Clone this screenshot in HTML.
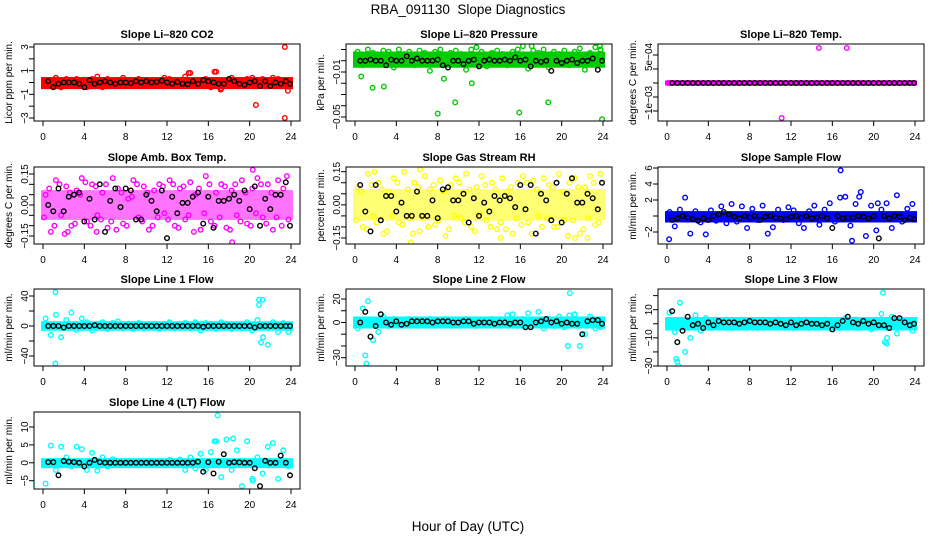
<!DOCTYPE html>
<html><head><meta charset="utf-8">
<style>
html,body{margin:0;padding:0;background:#fff;}
svg{display:block;font-family:"Liberation Sans",sans-serif;}
</style></head>
<body>
<svg id="chart" width="936" height="540" viewBox="0 0 936 540">
<text x="468" y="14" text-anchor="middle" font-size="13.5" style="white-space:pre">RBA_091130  Slope Diagnostics</text>
<text x="468" y="531" text-anchor="middle" font-size="13.5">Hour of Day (UTC)</text>
<g id="panels"></g>
</svg>
<script>
const blackHours=[0.5,1,1.5,2,2.5,3,3.5,4,4.5,5,5.5,6,6.5,7,7.5,8,8.5,9,9.5,10,10.5,11,11.5,12,12.5,13,13.5,14,14.5,15,15.5,16,16.5,17,17.5,18,18.5,19,19.5,20,20.5,21,21.5,22,22.5,23,23.5,23.9];
const colHours=[0.25,0.75,1.25,1.75,2.25,2.75,3.25,3.75,4.25,4.75,5.25,5.75,6.25,6.75,7.25,7.75,8.25,8.75,9.25,9.75,10.25,10.75,11.25,11.75,12.25,12.75,13.25,13.75,14.25,14.75,15.25,15.75,16.25,16.75,17.25,17.75,18.25,18.75,19.25,19.75,20.25,20.75,21.25,21.75,22.25,22.75,23.25,23.75];
const colHoursB=[0.1,0.6,1.1,1.6,2.1,2.6,3.1,3.6,4.1,4.6,5.1,5.6,6.1,6.6,7.1,7.6,8.1,8.6,9.1,9.6,10.1,10.6,11.1,11.6,12.1,12.6,13.1,13.6,14.1,14.6,15.1,15.6,16.1,16.6,17.1,17.6,18.1,18.6,19.1,19.6,20.1,20.6,21.1,21.6,22.1,22.6,23.1,23.6];
const xTicks=[0,4,8,12,16,20,24];
const xTickLabels=["0","4","8","12","16","20","24"];

const co2Band=[-0.35,0.25];
const co2Black=[0.1,-0.4,-0.1,0,0,0,-0.1,-0.4,0.2,-0.1,0,0.1,0,-0.1,0,0,-0.05,0.1,0,0.1,0,0.05,0.15,0,-0.1,0.05,-0.1,-0.15,0.1,-0.1,0.2,0.1,0,-0.1,-0.1,0.3,0.1,-0.1,-0.2,0,0.1,-0.3,0.1,-0.3,0,-0.1,0.1,-0.1];
const co2Pts=[0.2,-0.3,0.4,-0.4,0.3,-0.2,0.3,0.1,-0.4,0.3,0.5,-0.4,0.3,-0.3,0.2,0.4,-0.3,0.2,0.3,-0.3,0.2,0.1,-0.3,0.4,0.3,-0.2,0.2,0.5,0.8,-0.3,0.2,0.3,-0.4,0.9,-0.5,-0.3,0.4,0.2,-0.2,0.3,0.4,-0.3,0.3,-0.2,0.4,0.3,-0.3,0.2];
const co2Out=[[23.4,3],[23.4,-3],[20.6,-1.9],[23.7,-0.7],[16.6,0.9],[14.1,0.8],[17.2,-0.6]];
const presBand=[-0.004,0.006];
const presBlack=[0,0,0.001,0,0,-0.004,0.001,0,0,0.004,0,0.002,0,0,0,0.001,-0.004,-0.006,0,0,-0.003,0,0.001,-0.005,0,0.001,0,0,0.001,0,0.003,0,0.001,-0.005,0,-0.001,0,-0.009,0,-0.002,0,0.001,-0.002,0,0,0.002,-0.008,0];
const presPts=[0.008,-0.004,0.01,0.007,-0.003,0.009,0.008,-0.006,0.01,0.006,0.008,-0.004,0.009,0.007,-0.009,0.008,0.01,-0.003,0.007,0.009,0.006,-0.008,0.01,0.012,0.008,-0.005,0.007,0.009,0.006,-0.004,0.008,0.01,0.013,-0.007,0.009,0.007,0.01,-0.006,0.008,0.006,0.009,-0.004,0.008,0.011,-0.008,0.007,0.012,0.01];
const presOut=[[0.6,-0.014],[1.7,-0.024],[2.8,-0.023],[8,-0.047],[8.6,-0.016],[9.7,-0.037],[11.3,-0.02],[15.9,-0.046],[18.7,-0.037],[23.9,-0.052],[23.7,0.013],[17.1,0.013]];
const tempBand=[0,0];
const tempBlack=[0,0,0,0,0,0,0,0,0,0,0,0,0,0,0,0,0,0,0,0,0,0,0,0,0,0,0,0,0,0,0,0,0,0,0,0,0,0,0,0,0,0,0,0,0,0,0,0];
const tempPts=[0,0,0,0,0,0,0,0,0,0,0,0,0,0,0,0,0,0,0,0,0,0,0,0,0,0,0,0,0,0,0,0,0,0,0,0,0,0,0,0,0,0,0,0,0,0,0,0];
const tempOut=[[14.7,0.00125],[17.4,0.00125],[11.1,-0.00125],[0.1,0]];
const ambBand=[-0.06,0.06];
const ambBlack=[0,-0.03,0.08,-0.03,0.04,0.05,0.06,-0.08,0.03,-0.07,0.1,-0.13,0.02,0.08,-0.01,0.08,0.07,-0.07,-0.07,0.05,0.02,-0.03,0.07,-0.16,0.04,-0.04,0.01,0.01,0.04,0.06,-0.09,0.04,-0.11,0.02,0.02,0.03,0.05,0.02,0.07,-0.02,0.09,-0.1,0.03,-0.02,0.05,0.05,0.11,-0.1];
const ambPts=[0.05,-0.13,0.12,-0.05,0.09,-0.1,0.07,0.13,-0.08,0.1,-0.05,0.06,-0.11,0.13,0.08,-0.09,0.03,0.12,-0.06,0.09,-0.12,0.07,0.1,-0.04,0.12,-0.1,0.08,-0.07,0.11,0.05,-0.12,0.14,-0.08,0.06,0.1,-0.11,0.07,-0.05,0.12,-0.09,0.08,0.13,-0.06,0.1,-0.12,0.12,0.08,-0.07];
const ambPtsB=[-0.06,0.08,-0.1,0.1,-0.14,0.06,-0.09,0.05,0.11,-0.1,0.09,-0.07,0.1,-0.08,-0.12,0.06,-0.1,0.04,0.1,-0.08,0.06,-0.1,-0.06,0.09,-0.07,0.1,-0.11,0.09,-0.05,-0.13,0.08,-0.04,0.1,-0.1,-0.06,0.09,-0.12,0.1,-0.08,0.06,-0.1,-0.04,0.1,-0.09,0.06,-0.06,-0.1,0.14];
const ambOut=[[18.3,-0.18],[20.3,0.17],[5.2,-0.13],[2.4,-0.13]];
const rhBand=[-0.06,0.06];
const rhBlack=[0.09,-0.03,-0.12,0.09,-0.07,0.04,0.04,-0.03,0.01,-0.05,-0.05,0.06,-0.05,-0.05,0.02,-0.06,0.07,0.08,0.02,0.02,0.05,-0.08,0.03,-0.05,0.01,-0.03,0.04,0.02,0.04,0.03,-0.01,0.09,-0.02,0.09,-0.13,0.05,0.02,-0.07,0.1,-0.08,0.05,0.12,0.01,0.01,0.05,0.03,-0.02,0.1];
const rhPts=[0.08,-0.1,0.14,-0.05,0.1,-0.13,0.06,0.12,-0.08,0.15,-0.06,0.1,-0.12,0.13,0.07,-0.09,0.11,-0.14,0.09,0.12,-0.06,0.14,-0.1,0.08,0.13,-0.07,0.1,-0.11,0.12,0.06,-0.13,0.1,0.13,-0.08,0.11,-0.05,0.12,0.09,-0.1,0.14,-0.07,0.1,0.12,-0.13,0.08,0.13,-0.09,0.14];
const rhPtsB=[-0.07,0.06,-0.11,0.09,-0.08,0.07,-0.12,-0.05,0.1,-0.09,0.07,-0.13,0.08,-0.06,-0.1,0.09,-0.07,0.06,-0.11,-0.05,0.1,-0.08,0.07,-0.12,-0.04,0.09,-0.1,0.07,-0.08,-0.11,0.08,-0.06,-0.09,0.1,-0.13,0.07,-0.1,-0.06,0.08,-0.1,0.06,-0.14,-0.07,0.08,-0.11,-0.06,0.1,-0.08];
const rhOut=[[5.4,-0.17],[6.3,0.16],[1.9,0.15],[14.1,-0.15],[21.3,-0.15],[22.5,-0.15]];
const sfBand=[-0.5,0.3];
const sfBlack=[-0.5,-0.3,0,-0.2,-0.4,-0.6,-0.3,-0.5,0,0.2,0.5,0.2,-0.1,-0.3,0,-0.2,0,-0.5,-0.1,0,-0.2,-0.3,-0.4,-0.1,0,-0.2,0,-0.3,-0.2,0,-0.3,-1.5,0,-0.3,-0.2,-0.2,0,-0.1,-0.3,0,-2.8,0,-0.3,0,-0.1,-0.5,-0.2,-0.4];
const sfPts=[0.5,-1.3,0.8,2.3,-2.2,0.6,-0.8,-2.3,0.7,-0.6,1.2,-0.9,1.5,-0.7,1.2,-1.5,0.9,-0.5,1.3,-2.2,-1.4,0.8,-0.5,1.1,0.7,-0.9,-1.5,0.6,1.3,-1.1,0.8,1.6,-0.7,2.3,2.4,-1.2,1.5,3,-2.5,1.3,-1.8,0.8,1.6,-1.5,2.6,-0.7,0.9,1.5];
const sfOut=[[16.8,5.7],[17.9,-3.1],[0.2,-2.9],[18.6,2.4],[20.4,1.6]];
const l1Band=[-3,3];
const l1Black=[0,0,0,-2,0,0,0,0,0,1,0,0,0,0,0,0,0,0,0,0,0,0,0,0,0,0,0,0,0,0,-1,0,0,0,0,0,0,0,0,0,-2,0,0,0,0,0,0,0];
const l1Pts=[10,-12,15,-15,8,18,-5,10,5,-6,3,5,-4,4,6,-3,3,-4,4,-3,2,3,-4,3,5,-3,2,4,-3,5,-6,4,3,-4,5,3,-4,2,-3,5,-6,8,35,-25,5,-8,4,-8];
const l1Out=[[1.2,45],[1.2,-50],[20.9,35],[20.9,28],[21.1,-22],[21.3,-15]];
const l2Band=[-3,3];
const l2Black=[0,9,-12,-3,7,0,-2,1,-2,-1,1,1,1,1,0,1,1,1,0,0,1,1,-1,0,0,0,-1,0,0,-1,0,0,-4,-4,0,1,3,0,1,-1,0,-1,-1,-10,1,2,2,-1];
const l2Pts=[-5,12,18,-15,-8,5,-3,3,-2,2,3,-2,2,-2,3,-2,2,3,-2,2,-2,3,2,-3,2,-2,3,-2,2,6,7,-3,3,8,-2,9,-5,3,-3,5,-4,6,7,-20,-10,5,-5,-4];
const l2Out=[[1.1,-35],[1.0,-28],[20.8,25],[20.6,-20]];
const l3Band=[-3,3];
const l3Black=[9,-13,-5,5,-1,0,-3,1,-1,2,1,1,1,0,1,2,1,1,1,0,1,0,-1,1,-1,0,1,0,0,-1,0,-4,-1,2,5,1,0,2,0,1,-1,-1,-3,4,4,1,-1,0];
const l3Pts=[8,-6,15,-20,-10,6,-5,4,-3,3,-2,3,-3,2,3,-2,2,-3,3,-2,2,3,-2,2,-3,3,2,-3,2,-2,3,-2,2,-3,4,-2,3,-3,2,-4,3,7,-14,5,-7,3,2,-5];
const l3Out=[[1.1,-30],[1.0,-27],[0.9,-25],[20.9,22],[21.1,-13],[21.3,-10]];
const l4Band=[-0.8,0.6];
const l4Black=[0.2,0.2,-3.5,0.5,0.3,0.2,0,-1,0,0.8,0.2,0,0,0,0,0,0,0,0,0,0,0,0,0,0,0,0,0,0,0.3,-2.5,0.2,-3,0.3,2.4,0,0.2,0.1,0,0,-1.5,-6.5,0.6,0,0,2,0,-3.5];
const l4Pts=[-5.8,4.8,-2,4.5,1.5,-1,4.5,3.8,-2,2.8,-2.2,1.5,-1,1,0.5,-0.5,0.5,-0.4,0.3,-0.5,0.5,-0.3,0.4,-0.5,0.8,-0.6,0.9,-2,1.5,-1.5,2.5,-2,3,6,-4,6.5,-2,3.5,-6.5,6,-4.5,1.5,-3,4.5,5.5,-4.5,3.5,-1];
const l4Out=[[16.9,13.2],[18.4,6.8],[16.6,6],[20.3,-5]];

const NS="http://www.w3.org/2000/svg";
const root=document.getElementById('panels');
function mk(tag,attrs,parent){const e=document.createElementNS(NS,tag);for(const k in attrs)e.setAttribute(k,attrs[k]);(parent||root).appendChild(e);return e;}

const panels=[
 {id:'co2',title:'Slope Li\u2013820 CO2',ylab:'Licor ppm per min.',col:0,row:0,color:'#ff0000',ref:[3,47,-3,118],ticks:[3,2,1,0,-1,-2,-3],labels:[[3,'3'],[1,'1'],[-1,'\u22121'],[-3,'\u22123']],band:co2Band,black:co2Black,pts:co2Pts,ptsB:null,out:co2Out,bandOp:1},
 {id:'pressure',title:'Slope Li\u2013820 Pressure',ylab:'kPa per min.',col:1,row:0,color:'#00cc00',ref:[0.01,49.5,-0.05,117],ticks:[0.01,0,-0.01,-0.02,-0.03,-0.04,-0.05],labels:[[-0.01,'\u22120.01'],[-0.05,'\u22120.05']],band:presBand,black:presBlack,pts:presPts,ptsB:null,out:presOut,bandOp:1},
 {id:'temp',title:'Slope Li\u2013820 Temp.',ylab:'degrees C per min.',col:2,row:0,color:'#ff00ff',ref:[0,83,0.001,55],ticks:[0.001,0.0005,0,-0.0005,-0.001],labels:[[0.00093,'5e\u221204'],[-0.00071,'\u22121e\u221203']],band:tempBand,black:tempBlack,pts:tempPts,ptsB:null,out:tempOut,bandOp:1},
 {id:'ambtemp',title:'Slope Amb. Box Temp.',ylab:'degrees C per min.',col:0,row:1,color:'#ff00ff',ref:[0.15,174,-0.15,236],ticks:[0.15,0.1,0.05,0,-0.05,-0.1,-0.15],labels:[[0.15,'0.15'],[0,'0.00'],[-0.15,'\u22120.15']],band:ambBand,black:ambBlack,pts:ambPts,ptsB:ambPtsB,out:ambOut,bandOp:0.55},
 {id:'rh',title:'Slope Gas Stream RH',ylab:'percent per min.',col:1,row:1,color:'#ffff00',ref:[0.15,171.7,-0.15,238],ticks:[0.15,0.1,0.05,0,-0.05,-0.1,-0.15],labels:[[0.15,'0.15'],[0,'0.00'],[-0.15,'\u22120.15']],band:rhBand,black:rhBlack,pts:rhPts,ptsB:rhPtsB,out:rhOut,bandOp:0.55},
 {id:'sampleflow',title:'Slope Sample Flow',ylab:'ml/min per min.',col:2,row:1,color:'#0000ff',ref:[6,168,-2,232],ticks:[6,4,2,0,-2],labels:[[6,'6'],[4,'4'],[2,'2'],[-2,'\u22122']],band:sfBand,black:sfBlack,pts:sfPts,ptsB:null,out:sfOut,bandOp:1},
 {id:'line1',title:'Slope Line 1 Flow',ylab:'ml/min per min.',col:0,row:2,color:'#00ffff',ref:[40,296,-40,356],ticks:[40,20,0,-20,-40],labels:[[40,'40'],[0,'0'],[-40,'\u221240']],band:l1Band,black:l1Black,pts:l1Pts,ptsB:null,out:l1Out,bandOp:1},
 {id:'line2',title:'Slope Line 2 Flow',ylab:'ml/min per min.',col:1,row:2,color:'#00ffff',ref:[20,299,-30,357.7],ticks:[20,10,0,-10,-20,-30],labels:[[20,'20'],[0,'0'],[-30,'\u221230']],band:l2Band,black:l2Black,pts:l2Pts,ptsB:null,out:l2Out,bandOp:1},
 {id:'line3',title:'Slope Line 3 Flow',ylab:'ml/min per min.',col:2,row:2,color:'#00ffff',ref:[10,309.7,-30,366],ticks:[20,10,0,-10,-20,-30],labels:[[10,'10'],[-10,'\u221210'],[-30,'\u221230']],band:l3Band,black:l3Black,pts:l3Pts,ptsB:null,out:l3Out,bandOp:1},
 {id:'line4',title:'Slope Line 4 (LT) Flow',ylab:'ml/min per min.',col:0,row:3,color:'#00ffff',ref:[10,427,-5,480.7],ticks:[10,5,0,-5],labels:[[10,'10'],[5,'5'],[0,'0'],[-5,'\u22125']],band:l4Band,black:l4Black,pts:l4Pts,ptsB:null,out:l4Out,bandOp:1}
];
const colLeft=[34,346,658], rowTop=[44,167,289,412], W=266, H=77;

panels.forEach(p=>{
  const L=colLeft[p.col], T=rowTop[p.row], B=T+H;
  const xs=h=>L+9+h*(248/24);
  const [v1,p1,v2,p2]=p.ref;
  const ys=v=>p1+(v-v1)*(p2-p1)/(v2-v1);
  const g=mk('g',{});
  
  
  const clipId='clip-'+p.id;
  const cp=mk('clipPath',{id:clipId},g); mk('rect',{x:L,y:T,width:W,height:H},cp);
  const t=mk('text',{x:L+W/2,y:T-6,'text-anchor':'middle','font-size':'11','font-weight':'bold'},g); t.textContent=p.title;
  
  
  const plot=mk('g',{'clip-path':'url(#'+clipId+')'},g);
  
  
  const yb1=ys(p.band[1]), yb0=ys(p.band[0]);
  const band=mk('rect',{x:xs(0)-2,y:Math.min(yb0,yb1)-2.5,width:xs(24)-xs(0)+4,height:Math.abs(yb0-yb1)+5,fill:p.color,'fill-opacity':p.bandOp},plot);
  
  
  const circ=(x,y,col,nm)=>{const c=mk('circle',{cx:x.toFixed(1),cy:y.toFixed(1),r:2.3,fill:'none',stroke:col,'stroke-width':1.4},plot);
    
    };
  p.pts.forEach((v,i)=>circ(xs(colHours[i]),ys(v),p.color,p.id+'-point'));
  if(p.ptsB) p.ptsB.forEach((v,i)=>circ(xs(colHoursB[i]),ys(v),p.color,p.id+'-point'));
  p.out.forEach(o=>circ(xs(o[0]),ys(o[1]),p.color,p.id+'-outlier'));
  p.black.forEach((v,i)=>circ(xs(blackHours[i]),ys(v),'#000',p.id+'-hourly-point'));
  const box=mk('rect',{x:L,y:T,width:W,height:H,fill:'none',stroke:'#000','stroke-width':1},g);
  
  
  mk('line',{x1:xs(0),x2:xs(24),y1:B,y2:B,stroke:'#000'},g);
  xTicks.forEach((h,i)=>{
    mk('line',{x1:xs(h),x2:xs(h),y1:B,y2:B+5,stroke:'#000'},g);
    const tl=mk('text',{x:xs(h),y:B+19,'text-anchor':'middle','font-size':'10'},g); tl.textContent=xTickLabels[i];
    
    
  });
  const tv=p.ticks.map(ys);
  mk('line',{x1:L,x2:L,y1:Math.min(...tv),y2:Math.max(...tv),stroke:'#000'},g);
  p.ticks.forEach(v=>mk('line',{x1:L-5,x2:L,y1:ys(v),y2:ys(v),stroke:'#000'},g));
  p.labels.forEach(l=>{
    const yy=ys(l[0]);
    const tl=mk('text',{x:0,y:0,'text-anchor':'middle','font-size':'10',transform:`translate(${L-6},${yy}) rotate(-90)`},g); tl.textContent=l[1];
    
    
  });
  const yl=mk('text',{x:0,y:0,'text-anchor':'middle','font-size':'10',transform:`translate(${L-22},${T+H/2}) rotate(-90)`},g); yl.textContent=p.ylab;
  
  
});
</script>
</body></html>
